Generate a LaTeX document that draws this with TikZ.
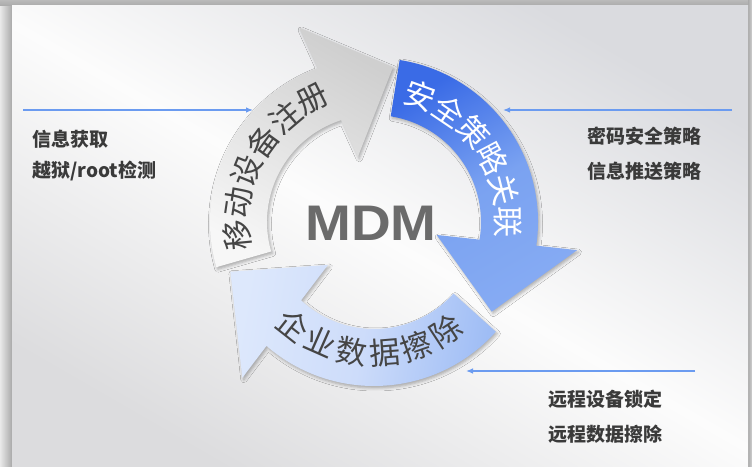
\documentclass[tikz,border=0pt]{standalone}
\usepackage{fontspec}
\setmainfont{Liberation Sans}
\newfontfamily\cjk{Noto Sans CJK SC}
\usetikzlibrary{arrows.meta,shadows.blur,calc}
\definecolor{bgout}{HTML}{E9E9E9}
\definecolor{shadowgray}{HTML}{A9A9A9}
\definecolor{panelA}{HTML}{DADBDF}
\definecolor{panelW}{HTML}{FCFCFC}
\definecolor{panelB}{HTML}{DCDCDE}
\definecolor{lineblue}{HTML}{6B9BF0}
\definecolor{txtdark}{HTML}{3A3A3A}
\definecolor{mdmgray}{HTML}{6B6B6B}
\definecolor{grayDark}{HTML}{CFCFCF}
\definecolor{grayLight}{HTML}{F7F7F7}
\definecolor{grayTxt}{HTML}{454545}
\definecolor{blueDark}{HTML}{3A6BE6}
\definecolor{blueMid}{HTML}{7AA2F1}
\definecolor{blueLight}{HTML}{86ABF3}
\definecolor{lightDark}{HTML}{9FBDF5}
\definecolor{lightMid}{HTML}{CDDCFA}
\definecolor{lightLight}{HTML}{DDE8FC}
\begin{document}
\begin{tikzpicture}[x=1pt,y=1pt,
  sidetxt/.style={font=\cjk\bfseries\fontsize{19}{19}\selectfont, text=txtdark, inner sep=0pt},
  arctxt/.style={font=\cjk\fontsize{31}{31}\selectfont, inner sep=0pt},
  feed/.style={draw=lineblue, line width=1.2pt, -{Latex[length=7pt,width=5.5pt]}},
  arrowshadow/.style={blur shadow={shadow xshift=1.5pt, shadow yshift=-2pt, shadow blur radius=3pt, shadow opacity=30}}]
\useasboundingbox (0,0) rectangle (752,466);
% frame and panel
\fill[bgout] (0,0) rectangle (752,466);
\shade[left color=bgout, right color=shadowgray] (0,0) rectangle (12,466);
\shade[top color=shadowgray!80, bottom color=shadowgray] (0,460) rectangle (752,466);
\shade[left color=shadowgray, right color=bgout!90!black] (748,0) rectangle (752,466);
\shade[top color=panelA, bottom color=panelB, middle color=panelW, shading angle=-30] (12,0) rectangle (748,460);
% circular arrows
\begin{scope}[shift={(374,244)}]
\shade[arrowshadow, top color=grayDark, bottom color=grayLight, shading angle=-30]
  (196:164pt) arc[start angle=196, end angle=110.1, radius=164pt] -- (111:208pt) -- (83:156pt)
  -- (104:67pt) -- (107.9:107pt) arc[start angle=107.9, end angle=196, radius=107pt] -- cycle;
\shade[arrowshadow, top color=blueDark, bottom color=blueLight, middle color=blueMid, shading angle=30]
  (81:164pt) arc[start angle=81, end angle=-8.3, radius=164pt] -- (-7.9:205pt) -- (-37.3:148pt)
  -- (-11.7:64pt) -- (-9.5:107pt) arc[start angle=-9.5, end angle=81, radius=107pt] -- cycle;
\shade[arrowshadow, top color=lightDark, bottom color=lightLight, middle color=lightMid, shading angle=-100]
  (-42:164pt) arc[start angle=-42, end angle=-130.95, radius=164pt] -- (-130.2:204pt) -- (-160.9:152pt)
  -- (-137:63pt) -- (-132.95:107pt) arc[start angle=-132.95, end angle=-42, radius=107pt] -- cycle;
% texts along the arrows
\foreach \ch/\a [count=\i] in {移/185.4, 动/171.6, 设/157.9, 备/144.1, 注/130.4, 册/116.6}
  \node[arctxt, text=grayTxt, rotate=\a-90] (g\i) at (\a:137pt) {\ch};
\foreach \ch/\a [count=\i] in {安/70, 全/56, 策/42, 略/28, 关/14, 联/0}
  \node[arctxt, text=white, rotate=\a-90] (b\i) at (\a:134pt) {\ch};
\foreach \ch/\a [count=\i] in {企/231.8, 业/246.1, 数/260.4, 据/274.7, 擦/289.0, 除/303.3}
  \node[arctxt, text=grayTxt, rotate=\a+90] (w\i) at (\a:131pt) {\ch};
\end{scope}
% centre label
\node[font=\bfseries\fontsize{50}{50}\selectfont, text=mdmgray, inner sep=0pt] (mdm) at (371,243) {\scalebox{1.1}[1]{MDM}};
% side labels
\node[sidetxt, anchor=west] (l1) at (32,327) {信息获取};
\node[sidetxt, anchor=west] (l2) at (32,295) {越狱/root检测};
\node[sidetxt] (r1) at (644.5,330) {密码安全策略};
\node[sidetxt] (r2) at (644.5,295) {信息推送策略};
\node[sidetxt] (d1) at (605.5,67) {远程设备锁定};
\node[sidetxt] (d2) at (605.5,32) {远程数据擦除};
% feed lines
\coordinate (la) at (23,356);
\coordinate (lb) at (253,356);
\coordinate (ra) at (732,356);
\coordinate (rb) at (503,356);
\coordinate (da) at (695,95);
\coordinate (db) at (466,95);
\draw[feed] (la) -- (lb);
\draw[feed] (ra) -- (rb);
\draw[feed] (da) -- (db);
\end{tikzpicture}
\end{document}
